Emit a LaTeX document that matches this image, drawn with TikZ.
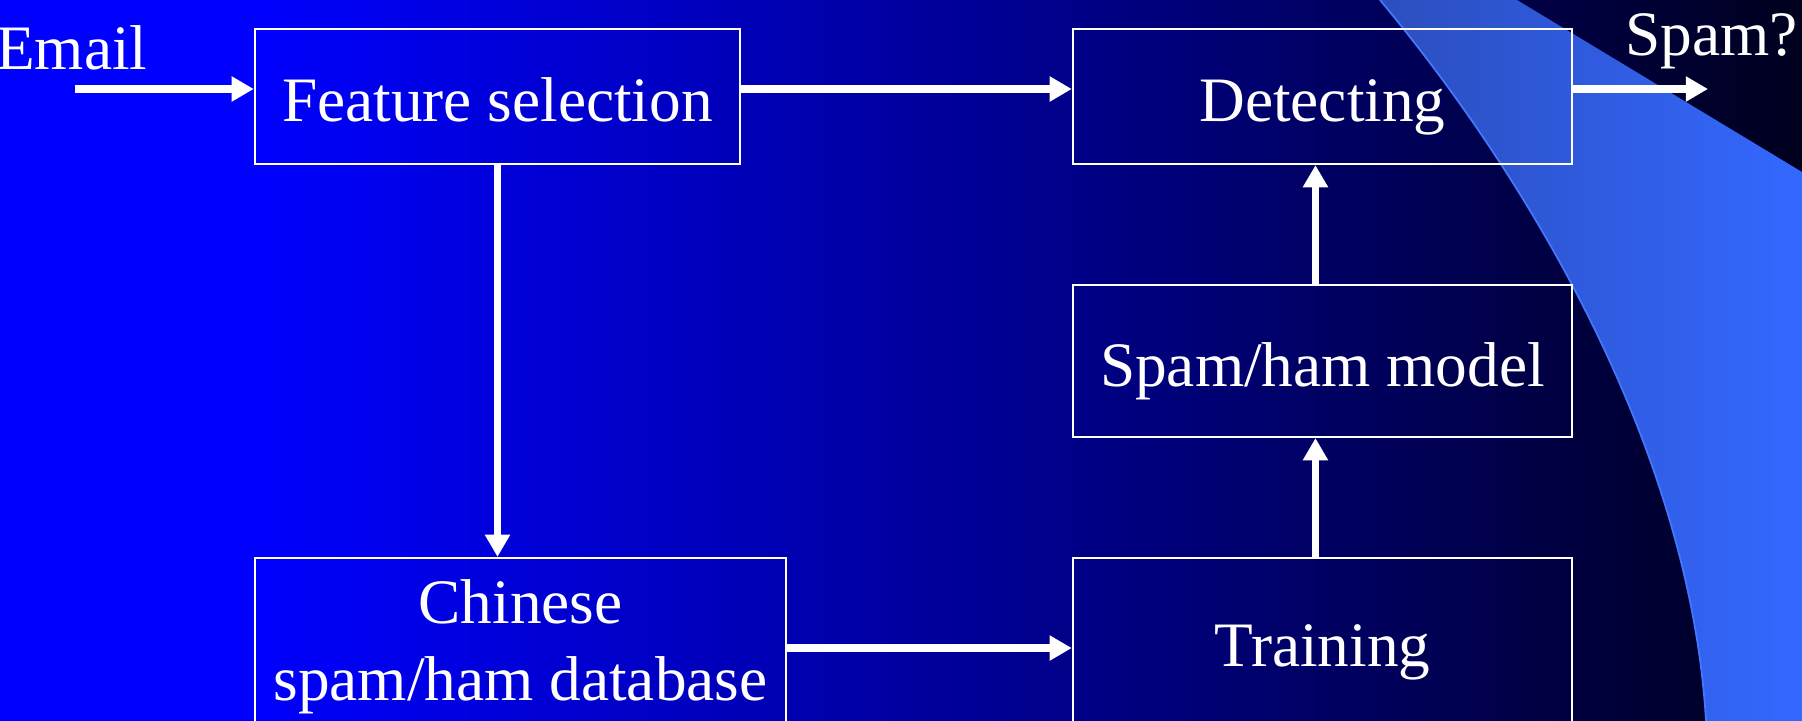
\documentclass[tikz,border=0pt]{standalone}
\usepackage{fontspec}
\setmainfont{Liberation Serif}
\usepackage{tikz}
\usetikzlibrary{arrows.meta, positioning}
\usepackage{xcolor}
\definecolor{SlideBlue}{RGB}{0,0,255}
\definecolor{SlideDark}{RGB}{0,0,30}
\definecolor{SwooshLeft}{RGB}{44,78,190}
\definecolor{SwooshRight}{RGB}{51,104,255}
\definecolor{SwooshEdge}{RGB}{66,120,255}

\tikzset{
  stage/.style={draw=white, line width=0.6pt, text=white, inner sep=0pt,
                font=\fontsize{18}{21.9}\selectfont, align=center},
  oneline/.style={text height=16pt, text depth=1.5pt},
  tag/.style={text=white, inner sep=0pt, font=\fontsize{18}{21.9}\selectfont},
  flow/.style={draw=white, line width=2.2pt,
               -{Triangle[length=6.3pt, width=6.8pt]}},
}

\begin{document}
\begin{tikzpicture}[x=0.01cm, y=-0.01cm]
  \useasboundingbox (0,0) rectangle (1802,721);
  % slide background
  \fill[SlideBlue] (0,0) rectangle (250,721);
  \shade[left color=SlideBlue, right color=SlideDark] (250,0) rectangle (1802,721);
  \shade[left color=SwooshLeft, right color=SwooshRight]
    (1380,0) .. controls (1530,180) and (1690,450) .. (1706,721)
    -- (1802,721) -- (1802,172) -- (1517,0) -- cycle;
  \draw[SwooshEdge, line width=0.5pt]
    (1380,0) .. controls (1530,180) and (1690,450) .. (1706,721);

  % stages
  \node[stage, oneline, minimum width=4.85cm, minimum height=1.35cm]
    (feat) at (497.5,96.5) {Feature selection};
  \node[stage, oneline, minimum width=4.99cm, minimum height=1.35cm]
    (detect) at (1322.5,96.5) {Detecting};
  \node[stage, oneline, minimum width=4.99cm, minimum height=1.52cm]
    (model) at (1322.5,361) {Spam/ham model};
  \node[stage, oneline, minimum width=4.99cm, minimum height=1.66cm]
    (train) at (1322.5,641) {Training};
  \node[stage, minimum width=5.31cm, minimum height=1.66cm]
    (db) at (520.5,641) {\rule{0pt}{16pt}Chinese\\spam/ham database};

  % input and output
  \node[tag, anchor=base east] (email) at (148,69) {Email};
  \node[tag, anchor=base west] (spam) at (1625,55) {Spam?};
  \coordinate (emailin) at (75,89);
  \coordinate (spamout) at (1708,89);

  \draw[flow] (emailin) -- (feat.west |- emailin);
  \draw[flow] (feat.east |- emailin) -- (detect.west |- emailin);
  \draw[flow] (detect.east |- spamout) -- (spamout);
  \draw[flow] (feat.south) -- (feat.south |- db.north);
  \draw[flow] ([yshift=-2pt]db.east) -- ([yshift=-2pt]train.west);
  \draw[flow] ([xshift=-2pt]train.north) -- ([xshift=-2pt]model.south);
  \draw[flow] ([xshift=-2pt]model.north) -- ([xshift=-2pt]detect.south);
\end{tikzpicture}
\end{document}
